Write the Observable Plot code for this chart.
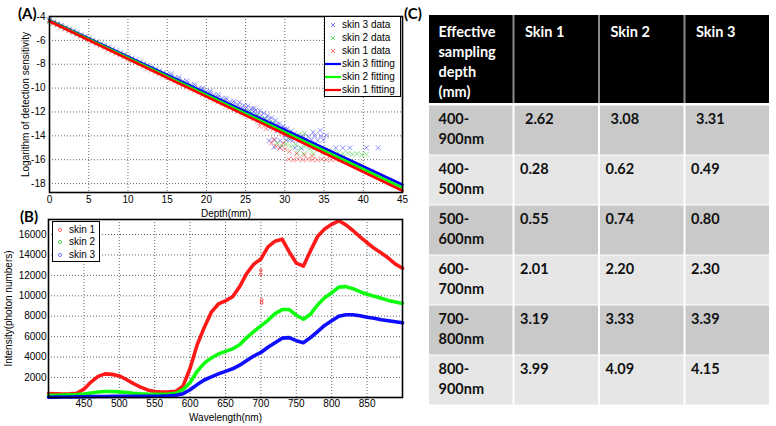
<!DOCTYPE html>
<html><head><meta charset="utf-8">
<script src="https://cdn.jsdelivr.net/npm/d3@7"></script>
<script src="https://cdn.jsdelivr.net/npm/@observablehq/plot@0.6"></script>
<style>
body{margin:0;background:#fff;}
#fig{position:relative;width:776px;height:426px;overflow:hidden;background:#fff;font-family:"Liberation Sans",Arial,sans-serif;}
.plab{position:absolute;font-family:Lato,sans-serif;font-weight:bold;font-size:15px;line-height:15px;color:#000;}
.legend{position:absolute;background:#fff;border:1.3px solid #000;box-sizing:border-box;font-size:10px;color:#000;}
.legend .row{position:absolute;left:0;height:12px;line-height:12px;white-space:nowrap;}
.legend svg{position:absolute;top:0;}
.legend span{position:absolute;top:0;}
</style></head><body><div id="fig"></div>
<script>
// ---------- Panel A data ----------
const depthTicks = [0,5,10,15,20,25,30,35,40,45];
const sensTicks = [-4,-6,-8,-10,-12,-14,-16,-18];
const bandDepth = [0,0.5,1,1.5,2,2.5,3,3.5,4,4.5,5,5.5,6,6.5,7,7.5,8,8.5,9,9.5,10,10.5,11,11.5,12,12.5,13,13.5,14,14.5,15,15.5,16,16.5,17,17.5,18,18.5,19,19.5,20,20.5,21,21.5,22,22.5,23,23.5,24,24.5,25,25.5,26,26.5,27,27.5,28,28.5,29,29.5,30];
const skin3Band = [-4.25,-4.48,-4.62,-4.74,-4.95,-5.05,-5.22,-5.36,-5.55,-5.67,-5.82,-5.98,-6.12,-6.28,-6.44,-6.58,-6.73,-6.88,-7.05,-7.19,-7.33,-7.50,-7.64,-7.80,-7.94,-8.10,-8.25,-8.40,-8.55,-8.70,-8.84,-9.00,-9.13,-9.28,-9.42,-9.58,-9.72,-9.86,-10.02,-10.15,-10.30,-10.44,-10.58,-10.74,-10.86,-11.02,-11.15,-11.30,-11.42,-11.60,-11.72,-11.88,-11.98,-12.22,-12.30,-12.55,-12.62,-12.95,-13.05,-13.38,-13.45];
const skin2Band = [-4.35,-4.52,-4.66,-4.82,-4.97,-5.13,-5.28,-5.44,-5.58,-5.75,-5.90,-6.05,-6.20,-6.37,-6.51,-6.67,-6.82,-6.98,-7.12,-7.29,-7.44,-7.59,-7.74,-7.91,-8.05,-8.22,-8.36,-8.52,-8.66,-8.83,-8.97,-9.13,-9.28,-9.43,-9.58,-9.75,-9.88,-10.05,-10.19,-10.36,-10.50,-10.64,-10.80,-10.95,-11.10,-11.26,-11.40,-11.57,-11.70,-11.88,-12.00,-12.20,-12.30,-12.52,-12.60,-12.85,-12.92,-13.25,-13.30,-13.62,-13.70];
const skin1Band = [-4.40,-4.57,-4.72,-4.88,-5.04,-5.19,-5.35,-5.52,-5.66,-5.83,-5.98,-6.14,-6.30,-6.45,-6.61,-6.77,-6.92,-7.08,-7.24,-7.40,-7.55,-7.71,-7.86,-8.03,-8.18,-8.33,-8.50,-8.65,-8.80,-8.97,-9.12,-9.28,-9.43,-9.59,-9.75,-9.90,-10.06,-10.22,-10.37,-10.53,-10.69,-10.84,-11.00,-11.16,-11.31,-11.47,-11.63,-11.78,-11.95,-12.10,-12.25,-12.42,-12.55,-12.78,-12.88,-13.10,-13.18,-13.45,-13.52,-13.80,-13.90];
const skin3ExtraDepth = [15.5,16.5,17.5,18.5,19.5,20.5,21.5,22.5,23.5,24.8,25.8,26.3,24.2,25.3,26.1,26.8,27.3,27.8,28.3,28.8,29.3,29.8,30.3,30.8,31.2,31.6,28.2,29.1,30.1,30.6,28.0,28.7,29.4,30.2,31.0,31.8,32.6,33.4,34.2,34.9,32.3,33.0,33.8,34.6,35.3,34.5,33.6,28.6,29.4,31.3,32.1,36.5,37.4,38.3,40.4,41.9];
const skin3ExtraValue = [-8.8,-9.1,-9.4,-9.7,-10.0,-10.25,-10.55,-10.85,-11.1,-11.45,-11.7,-11.85,-11.2,-11.5,-11.7,-11.9,-12.1,-12.3,-12.5,-12.7,-13.0,-13.2,-13.4,-13.6,-13.8,-14.0,-13.3,-13.6,-14.0,-14.3,-14.4,-14.35,-14.4,-14.35,-14.4,-14.35,-14.4,-14.35,-14.4,-14.35,-14.0,-14.05,-14.0,-14.0,-13.95,-13.55,-13.7,-14.95,-15.0,-15.0,-15.05,-15.0,-15.0,-15.0,-15.0,-15.0];
const skin2ExtraDepth = [29.0,29.6,30.2,30.8,31.4,32.0,32.6,33.2,33.8,34.4,35.0,35.6,36.2,36.8,37.4,38.0,38.6,39.2,39.8,40.4,31.6,32.4,33.6,34.8,30.5,31.2,32.5,31.8,25.5,26.5,27.5,28.5];
const skin2ExtraValue = [-14.6,-14.8,-14.7,-14.9,-14.75,-15.0,-14.9,-15.1,-15.0,-15.15,-15.3,-15.2,-15.35,-15.4,-15.5,-15.45,-15.55,-15.5,-15.6,-15.55,-15.4,-15.5,-15.5,-15.45,-14.2,-14.1,-13.8,-13.9,-12.0,-12.3,-12.6,-12.9];
const skin1ExtraDepth = [28.3,28.9,29.4,30.0,30.6,28.6,29.8,30.5,31.1,31.7,32.3,32.9,33.5,34.1,34.7,35.3,35.9,36.5,37.0,31.5,32.5,33.5,26.8,27.6];
const skin1ExtraValue = [-14.6,-14.9,-15.0,-15.1,-15.3,-14.3,-14.6,-15.95,-16.0,-15.95,-16.0,-15.95,-16.0,-16.0,-15.95,-16.0,-16.0,-15.95,-16.0,-15.5,-15.6,-15.7,-13.2,-13.4];
const fitDepth = [0, 45];
const skin3Fit = [-4.30, -18.10];
const skin2Fit = [-4.35, -18.35];
const skin1Fit = [-4.40, -18.60];

// ---------- Panel B data ----------
const wavelengthTicks = [450,500,550,600,650,700,750,800,850];
const intensityTicks = [2000,4000,6000,8000,10000,12000,14000,16000];
const wavelength = [400,410,420,430,440,450,460,470,480,490,500,510,520,530,540,550,560,570,580,590,600,610,620,630,640,650,660,670,680,690,700,710,720,730,740,750,760,770,780,790,800,810,820,830,840,850,860,870,880,890,900];
const skin1Spectrum = [420,400,380,390,450,850,1550,2100,2350,2300,2150,1800,1400,1050,780,620,580,600,650,1150,2900,5200,6900,8400,9200,9500,9900,10900,12200,13100,13600,14800,15350,15550,14300,13200,12900,14400,15800,16550,17000,17350,16950,16400,15780,15200,14650,14200,13700,13100,12700];
const skin2Spectrum = [250,260,270,290,320,380,480,580,620,620,590,520,450,400,370,360,360,380,450,800,1500,2600,3400,3900,4300,4550,4800,5200,5900,6500,7050,7600,8250,8650,8650,8100,7700,8200,9100,9800,10300,10850,10900,10700,10400,10150,9950,9750,9550,9400,9250];
const skin3Spectrum = [60,70,80,90,100,110,120,130,140,150,150,150,150,150,150,160,170,200,260,400,800,1300,1750,2050,2350,2600,2850,3200,3650,4100,4450,4950,5400,5850,5900,5600,5400,5900,6500,7100,7550,8000,8150,8150,8050,7900,7800,7650,7550,7450,7350];
const skin1OutlierWl = [700,700,701,701];
const skin1OutlierValue = [12500,12100,9300,9600];

// ---------- Panel C data ----------
const tableHeader = ["Effective\nsampling\ndepth\n(mm)", "Skin 1", "Skin 2", "Skin 3"];
const bandLabels = ["400-\n900nm","400-\n500nm","500-\n600nm","600-\n700nm","700-\n800nm","800-\n900nm"];
const skin1Depth = [2.62,0.28,0.55,2.01,3.19,3.99];
const skin2Depth = [3.08,0.62,0.74,2.20,3.33,4.09];
const skin3Depth = [3.31,0.49,0.80,2.30,3.39,4.15];

// ---------- helpers ----------
const fig = document.getElementById("fig");
const FONT = '"Liberation Sans", Arial, sans-serif';
const BLUE = "#0000ff", GREEN = "#00ff00", RED = "#ff0000";
function place(node, left, top) {
  node.style.position = "absolute";
  node.style.left = left + "px";
  node.style.top = top + "px";
  fig.appendChild(node);
}
function pts(xs, ys) { return xs.map((x, i) => ({x, y: ys[i]})); }
const plain = (d) => String(d);
const axisStyle = {fontSize: "10px", fontFamily: FONT, background: "transparent", color: "#000", overflow: "visible"};
const gridOpts = {stroke: "#000", strokeOpacity: 0.75, strokeWidth: 0.8, strokeDasharray: "1,2"};

// ---------- Panel A ----------
const dotOpts = (c) => ({x: "x", y: "y", symbol: "times", r: 2.4, stroke: c, strokeWidth: 0.7, strokeOpacity: 0.75});
const plotA = Plot.plot({
  width: 420, height: 222, marginLeft: 49, marginRight: 18, marginTop: 16, marginBottom: 30,
  style: axisStyle,
  x: {domain: [0, 45]},
  y: {domain: [-18.75, -4]},
  marks: [
    Plot.gridX(depthTicks, gridOpts),
    Plot.gridY(sensTicks, gridOpts),
    Plot.dot(pts(bandDepth, skin3Band).concat(pts(skin3ExtraDepth, skin3ExtraValue)), dotOpts("#3030ff")),
    Plot.dot(pts(bandDepth, skin2Band).concat(pts(skin2ExtraDepth, skin2ExtraValue)), dotOpts("#20d020")),
    Plot.dot(pts(bandDepth, skin1Band).concat(pts(skin1ExtraDepth, skin1ExtraValue)), dotOpts("#ff2020")),
    Plot.line(pts(fitDepth, skin3Fit), {x: "x", y: "y", stroke: BLUE, strokeWidth: 2.6}),
    Plot.line(pts(fitDepth, skin2Fit), {x: "x", y: "y", stroke: GREEN, strokeWidth: 2.6}),
    Plot.line(pts(fitDepth, skin1Fit), {x: "x", y: "y", stroke: RED, strokeWidth: 2.6}),
    Plot.frame({stroke: "#000", strokeWidth: 1.6}),
    Plot.axisX(depthTicks, {tickSize: 0, tickPadding: 3, tickFormat: plain, label: "Depth(mm)", labelAnchor: "center", labelOffset: 24, labelArrow: false}),
    Plot.axisY(sensTicks, {tickSize: 0, tickPadding: 4, tickFormat: plain, label: "Logarithm of detection sensitivity", labelAnchor: "center", labelOffset: 28, labelArrow: false})
  ]
});
place(plotA, 0, 0);

// ---------- Panel B ----------
const plotB = Plot.plot({
  width: 420, height: 226, marginLeft: 48, marginRight: 18, marginTop: 19, marginBottom: 29,
  style: axisStyle,
  x: {domain: [400, 900]},
  y: {domain: [35, 17475]},
  marks: [
    Plot.gridX(wavelengthTicks, gridOpts),
    Plot.gridY(intensityTicks, gridOpts),
    Plot.line(pts(wavelength, skin1Spectrum), {x: "x", y: "y", stroke: RED, strokeWidth: 3.6, strokeOpacity: 0.9}),
    Plot.dot(pts(skin1OutlierWl, skin1OutlierValue), {x: "x", y: "y", r: 1.4, stroke: RED, strokeWidth: 0.7}),
    Plot.line(pts(wavelength, skin2Spectrum), {x: "x", y: "y", stroke: GREEN, strokeWidth: 3.6, strokeOpacity: 0.95}),
    Plot.line(pts(wavelength, skin3Spectrum), {x: "x", y: "y", stroke: BLUE, strokeWidth: 3.6, strokeOpacity: 0.95}),
    Plot.frame({stroke: "#000", strokeWidth: 1.6}),
    Plot.axisX(wavelengthTicks, {tickSize: 0, tickPadding: 2, tickFormat: plain, label: "Wavelength(nm)", labelAnchor: "center", labelOffset: 23, labelArrow: false}),
    Plot.axisY(intensityTicks, {tickSize: 0, tickPadding: 2, tickFormat: plain, label: "Intensity(photon numbers)", labelAnchor: "center", labelOffset: 44, labelArrow: false})
  ]
});
place(plotB, 0, 200);

// ---------- Legends (HTML) ----------
function legend(left, top, w, h, entries, rowTop, rowStep, symW, textX) {
  const box = document.createElement("div");
  box.className = "legend";
  Object.assign(box.style, {left: left + "px", top: top + "px", width: w + "px", height: h + "px"});
  entries.forEach((e, i) => {
    const row = document.createElement("div");
    row.className = "row";
    row.style.top = (rowTop + i * rowStep - 6) + "px";
    row.style.width = (w - 2) + "px";
    let sym = "";
    if (e.type === "x") sym = `<svg width="${symW}" height="12" style="left:0"><path d="M${symW/2-2},4L${symW/2+2},8M${symW/2-2},8L${symW/2+2},4" stroke="${e.color}" stroke-width="0.8" fill="none"/></svg>`;
    else if (e.type === "line") sym = `<svg width="${symW}" height="12" style="left:0"><line x1="0" x2="${symW}" y1="6" y2="6" stroke="${e.color}" stroke-width="2.2"/></svg>`;
    else sym = `<svg width="${symW}" height="12" style="left:0"><circle cx="${symW/2}" cy="6" r="1.6" stroke="${e.color}" stroke-width="0.8" fill="none"/></svg>`;
    row.innerHTML = sym + `<span style="left:${textX}px">${e.label}</span>`;
    box.appendChild(row);
  });
  fig.appendChild(box);
}
legend(324, 16, 77, 81, [
  {type: "x", color: "#5050ff", label: "skin 3 data"},
  {type: "x", color: "#30d030", label: "skin 2 data"},
  {type: "x", color: "#ff4040", label: "skin 1 data"},
  {type: "line", color: BLUE, label: "skin 3 fitting"},
  {type: "line", color: GREEN, label: "skin 2 fitting"},
  {type: "line", color: RED, label: "skin 1 fitting"}
], 8, 12.9, 16, 17);
legend(52, 221, 48, 41, [
  {type: "o", color: "#ff4040", label: "skin 1"},
  {type: "o", color: "#30d030", label: "skin 2"},
  {type: "o", color: "#5050ff", label: "skin 3"}
], 7.5, 12.8, 14, 16);

// ---------- Panel labels ----------
[["(A)", 18, 6], ["(B)", 20, 209], ["(C)", 404, 6]].forEach(([t, l, tp]) => {
  const d = document.createElement("div");
  d.className = "plab"; d.textContent = t;
  d.style.left = l + "px"; d.style.top = tp + "px";
  fig.appendChild(d);
});

// ---------- Panel C (table drawn with Plot) ----------
const tableRows = [{label: tableHeader[0], vals: tableHeader.slice(1), header: true}]
  .concat(bandLabels.map((b, i) => ({label: b, vals: [skin1Depth[i], skin2Depth[i], skin3Depth[i]].map(v => v.toFixed(2)), header: false})));
let acc = 0;
tableRows.forEach((r, i) => { r.ri = i; r.y1 = acc; acc += r.label.split("\n").length + 0.5; r.y2 = acc; r.x1 = 0; r.x2 = 4; });
const total = acc;
const cells = tableRows.flatMap(r => [r.label, ...r.vals].map((t, ci) => ({
  text: t, ci, ri: r.ri, x1: ci, x2: ci + 1, y1: r.y1, y2: r.y2, header: r.header,
  kind: r.header ? "header" : (r.ri % 2 === 1 ? "dark" : "light")
})));
const textBase = {x: "x1", y: "y1", text: "text", textAnchor: "start", lineAnchor: "top",
  fontSize: 14.5, fontWeight: "bold", fontFamily: "Lato, sans-serif", lineHeight: 1.38};
const plotC = Plot.plot({
  width: 342, height: 390, marginTop: 0, marginRight: 0, marginBottom: 0, marginLeft: 0,
  style: {background: "transparent", overflow: "visible"},
  x: {domain: [0, 4], axis: null},
  y: {domain: [0, total], range: [0, 390], axis: null},
  color: {domain: ["header", "dark", "light"], range: ["#000000", "#c9c9c9", "#e6e6e6"]},
  marks: [
    Plot.rect(tableRows.filter(r => r.header), {x1: "x1", x2: "x2", y1: "y1", y2: "y2", fill: "#8a8a8a", insetBottom: 2, insetLeft: 1, insetRight: 1}),
    Plot.rect(cells.filter(c => c.header), {x1: "x1", x2: "x2", y1: "y1", y2: "y2", fill: "kind", insetLeft: 1, insetRight: 1, insetBottom: 2}),
    Plot.rect(cells.filter(c => !c.header), {x1: "x1", x2: "x2", y1: "y1", y2: "y2", fill: "kind", insetLeft: 1, insetRight: 1, insetTop: 0.5, insetBottom: 0.5}),
    Plot.text(cells.filter(c => c.header && c.ci === 0), {...textBase, fill: "#ffffff", dx: 10, dy: 7.5}),
    Plot.text(cells.filter(c => c.header && c.ci > 0), {...textBase, fill: "#ffffff", dx: 11, dy: 7.5}),
    Plot.text(cells.filter(c => !c.header && c.ci === 0), {...textBase, fill: "#111111", dx: 10, dy: 4.5}),
    Plot.text(cells.filter(c => c.ri === 1 && c.ci > 0), {...textBase, fill: "#111111", dx: 11, dy: 4.5}),
    Plot.text(cells.filter(c => c.ri > 1 && c.ci > 0), {...textBase, fill: "#111111", dx: 6, dy: 4.5})
  ]
});
place(plotC, 428, 15);
</script>
</body></html>
